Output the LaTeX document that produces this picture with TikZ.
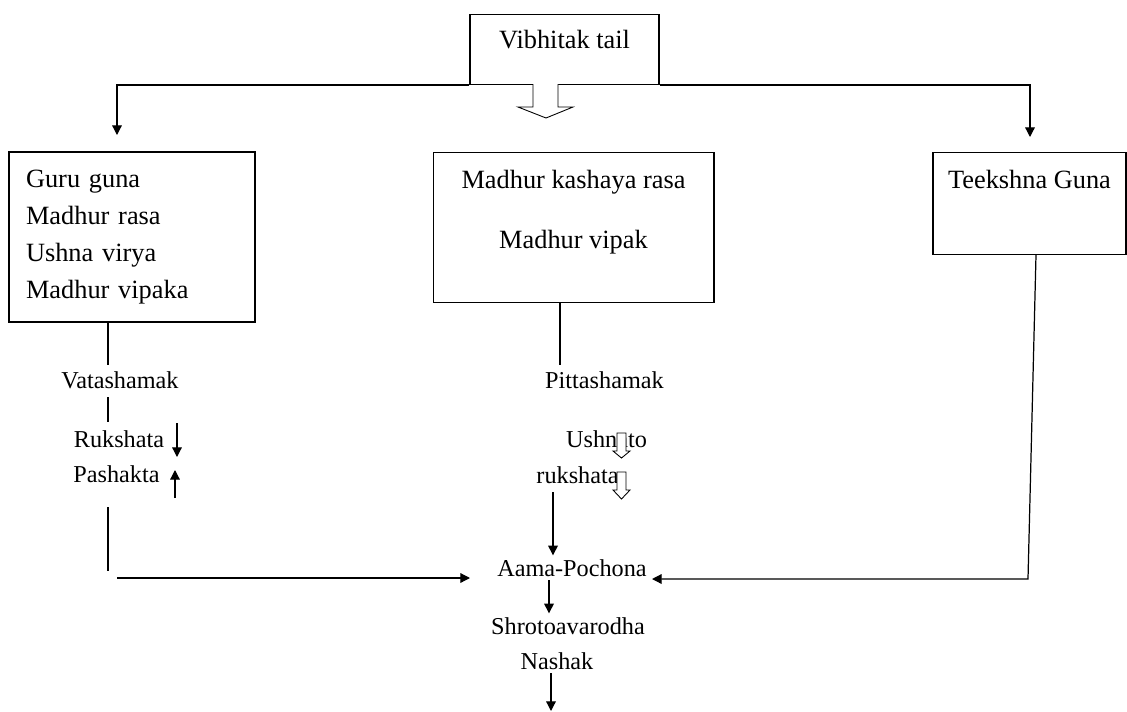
\documentclass[tikz,border=0pt]{standalone}
\usepackage{fontspec}
\setmainfont{Liberation Serif}
\usetikzlibrary{arrows.meta}

\tikzset{
  box/.style={draw, line width=0.6pt, inner sep=0pt, font=\fontsize{15}{21}\selectfont},
  lbl/.style={anchor=base, inner sep=2pt, font=\fontsize{13.8}{16}\selectfont},
  arr/.style={-{Triangle[length=5.5pt,width=5.5pt]}, line width=0.7pt},
  ln/.style={line width=0.6pt},
  hollow/.style={draw, fill=white, line width=0.5pt}
}

\begin{document}
\begin{tikzpicture}[x=0.02cm, y=-0.02cm]
\useasboundingbox (0,0) rectangle (1127,711);

% boxes
\node[box, anchor=north, minimum width=3.78cm, text height=0.68cm, text depth=0.72cm] (vib) at (564.5,14) {Vibhitak tail};
\node[box, minimum width=4.92cm, minimum height=3.4cm, inner xsep=0.34cm, text width=4.24cm, align=left] (guru) at (132,237)
  {Guru guna\\Madhur rasa\\Ushna virya\\Madhur vipaka};
\node[box, anchor=north, minimum width=5.62cm, text height=0.72cm, text depth=2.28cm] (madh) at (573.5,152)
  {\begin{tabular}[t]{@{}c@{}}Madhur kashaya rasa\\[13pt]Madhur vipak\end{tabular}};
\node[box, anchor=north, minimum width=3.86cm, text height=0.72cm, text depth=1.32cm] (teek) at (1029.5,152) {Teekshna Guna};

% labels
\node[lbl] (vata) at (120,388) {Vatashamak};
\node[lbl] (rukA) at (119,447) {Rukshata};
\node[lbl] (pash) at (116.5,482) {Pashakta};
\node[lbl] (pitt) at (604.5,388) {Pittashamak};
\node[lbl] (ushn) at (606.5,447) {Ushnato};
\node[lbl] (rukB) at (577.5,483) {rukshata};
\node[lbl] (aama) at (572,576) {Aama-Pochona};
\node[lbl] (shro) at (568,634) {Shrotoavarodha};
\node[lbl] (nash) at (557,669) {Nashak};

\coordinate (gTop) at (117,135);
\coordinate (tTop) at (1030,137);
\coordinate (l1) at (108,365);
\coordinate (l2a) at (108,397);
\coordinate (l2b) at (108,422);
\coordinate (l3a) at (108,507);
\coordinate (l3b) at (108,571);
\coordinate (lIn) at (117,578);
\coordinate (lTip) at (470,578);
\coordinate (m1) at (560,365);
\coordinate (rTop) at (1036,0);
\coordinate (rBend) at (1028,579);
\coordinate (rTip) at (652,579);
\coordinate (aX) at (553,0);
\coordinate (sX) at (549,0);
\coordinate (nX) at (551,0);
\coordinate (fin) at (551,711);

% top split
\draw[arr] (vib.south west) -| (gTop);
\draw[arr] (vib.south east) -| (tTop);
\draw[hollow] (533,84) -- (533,107) -- (518,107) -- (546,118) -- (573,107) -- (558,107) -- (558,84);

% left branch
\draw[ln] (guru.south -| l1) -- (l1);
\draw[ln] (l2a) -- (l2b);
\draw[ln] (l3a) -- (l3b);
\draw[arr] (177,423) -- (177,457);
\draw[arr] (175,498) -- (175,470);
\draw[arr] (lIn) -- (lTip);

% middle branch
\draw[ln] (madh.south -| m1) -- (m1);
\draw[hollow] (617,433) -- (617,451) -- (613,451) -- (621.5,458) -- (630,451) -- (626,451) -- (626,433) -- cycle;
\draw[hollow] (617,472) -- (617,490) -- (613,490) -- (621.5,499) -- (630,490) -- (626,490) -- (626,472) -- cycle;
\draw[arr] (553,492) -- (aama.north -| aX);

% right branch
\draw[arr] (teek.south -| rTop) -- (rBend) -- (rTip);

% bottom
\draw[arr] (aama.south -| sX) -- (shro.north -| sX);
\draw[arr] (nash.south -| nX) -- (fin);
\end{tikzpicture}
\end{document}
